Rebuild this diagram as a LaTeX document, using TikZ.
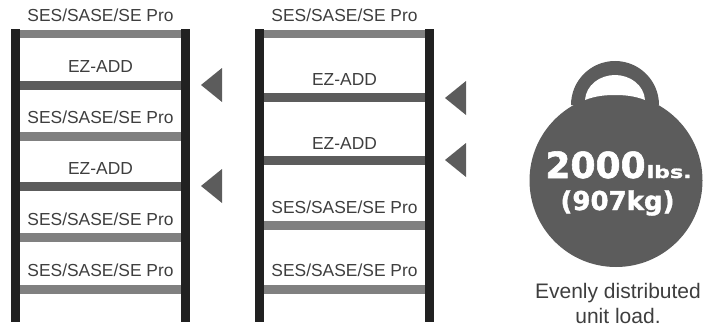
\documentclass[tikz,border=0pt]{standalone}
\usepackage{fontspec}
\setmainfont{Liberation Sans}
\newfontfamily\heavyfont[FakeBold=1.6]{DejaVu Sans Bold}
\definecolor{upright}{RGB}{33,33,33}
\definecolor{lightshelf}{RGB}{128,128,128}
\definecolor{darkshelf}{RGB}{92,92,92}
\definecolor{labeltext}{RGB}{62,62,62}
\tikzset{
    shelflabel/.style={text=labeltext,font=\fontsize{17.4}{17.4}\selectfont,inner sep=0pt,anchor=base},
    notelabel/.style={shelflabel,font=\fontsize{21}{21}\selectfont},
    loadlabel/.style={text=white,inner sep=0pt,anchor=base},
    loadmark/.style={fill=darkshelf}
}

\begin{document}
\begin{tikzpicture}[x=1pt,y=-1pt]
        \useasboundingbox (0,0) rectangle (717,329);

        % left rack
        \foreach \y/\col in {30/lightshelf,81/darkshelf,132/lightshelf,182/darkshelf,233/lightshelf,285/lightshelf}
            \fill[\col] (15,\y) rectangle (185,\y+8.5);
        \fill[upright] (11,29) rectangle (19.5,322);
        \fill[upright] (181,29) rectangle (189.5,322);

        % right rack
        \foreach \y/\col in {30/lightshelf,93/darkshelf,156/darkshelf,221/lightshelf,285/lightshelf}
            \fill[\col] (259,\y) rectangle (429,\y+8.5);
        \fill[upright] (255,29) rectangle (263.5,322);
        \fill[upright] (425,29) rectangle (433.5,322);

        % arrows
        \foreach \x/\y in {201/85,201/186,445/98,445/160}
            \fill[loadmark] (\x,\y) -- (\x+21,\y-17) -- (\x+21,\y+17) -- cycle;

        \node[shelflabel] (topleft) at (100.5,22) {SES/SASE/SE Pro};
        \node[shelflabel] (ezleftone) at (100.5,72) {EZ-ADD};
        \node[shelflabel] (sesleftone) at (100.5,123) {SES/SASE/SE Pro};
        \node[shelflabel] (ezlefttwo) at (100.5,174) {EZ-ADD};
        \node[shelflabel] (seslefttwo) at (100.5,225) {SES/SASE/SE Pro};
        \node[shelflabel] (seslefthree) at (100.5,276) {SES/SASE/SE Pro};

        \node[shelflabel] (topright) at (344.5,22) {SES/SASE/SE Pro};
        \node[shelflabel] (ezrightone) at (344.5,85) {EZ-ADD};
        \node[shelflabel] (ezrighttwo) at (344.5,149) {EZ-ADD};
        \node[shelflabel] (sesrightone) at (344.5,213) {SES/SASE/SE Pro};
        \node[shelflabel] (sesrighttwo) at (344.5,276) {SES/SASE/SE Pro};

        % weight
        \fill[darkshelf] (571,105) arc[start angle=180,end angle=360,radius=44] -- cycle;
        \fill[darkshelf] (616,180.5) circle (86.5);
        \fill[white] (585,100) .. controls (595,96) and (605,95) .. (615,95)
            .. controls (625,95) and (635,96) .. (645,100)
            .. controls (644,85) and (630,75) .. (615,75)
            .. controls (600,75) and (586,85) .. (585,100) -- cycle;

        \node[loadlabel,font=\heavyfont\fontsize{36}{36}\selectfont] (loadlbs)
            at (618.5,178) {2000\hspace{1pt}{\fontsize{17}{17}\selectfont\scalebox{1.3}[1]{lbs.}}};
        \node[loadlabel,font=\heavyfont\fontsize{26}{26}\selectfont] (loadkg)
            at (617.5,210) {(907kg)};

        \node[notelabel] (noteone) at (618,298) {Evenly distributed};
        \node[notelabel] (notetwo) at (618,323) {unit load.};
    \end{tikzpicture}
\end{document}
